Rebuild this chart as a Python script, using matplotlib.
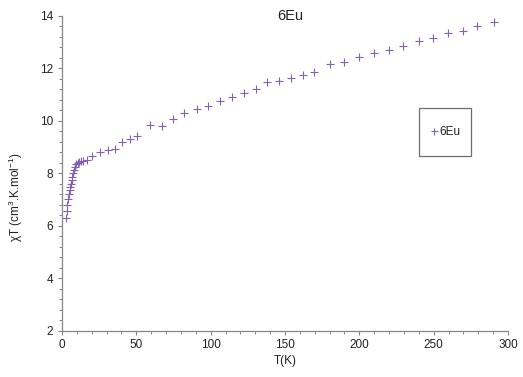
"""
Magnetic susceptibility plot (chi*T vs T) for the 6Eu sample.
"""

import matplotlib
matplotlib.use("Agg")
import matplotlib.pyplot as plt
from matplotlib.patches import Rectangle
from matplotlib.ticker import MultipleLocator

plt.rcParams["font.family"] = ["Liberation Sans", "DejaVu Sans"]
plt.rcParams["mathtext.fontset"] = "custom"
plt.rcParams["mathtext.rm"] = "Liberation Sans"
plt.rcParams["mathtext.it"] = "Liberation Sans:italic"

# Temperature (K) and chi*T (cm3.K.mol-1)
temperature = [
    2.6, 3.2, 3.7, 4.2, 4.7, 5.2, 5.5, 6.0, 6.5, 7.0, 7.5, 8.1, 8.7, 9.6,
    10.6, 11.6, 12.8, 14.3, 16.6, 20.0, 25.6, 30.7, 35.6, 40.4, 45.7, 50.2,
    59.2, 67.1, 74.5, 82.3, 90.6, 98.2, 106.3, 114.1, 122.4, 130.5, 138.1,
    146.2, 153.8, 161.9, 169.5, 180.3, 189.7, 200.0, 209.9, 219.7, 229.6,
    239.9, 249.7, 259.8, 269.5, 279.3, 290.6,
]
chi_t = [
    6.30, 6.56, 6.79, 7.04, 7.21, 7.36, 7.48, 7.61, 7.74, 7.87, 8.00, 8.12,
    8.25, 8.34, 8.40, 8.44, 8.47, 8.48, 8.52, 8.67, 8.82, 8.89, 8.92, 9.19,
    9.31, 9.42, 9.84, 9.82, 10.07, 10.30, 10.45, 10.56, 10.76, 10.92, 11.05,
    11.21, 11.49, 11.52, 11.65, 11.75, 11.87, 12.16, 12.26, 12.42, 12.58,
    12.70, 12.87, 13.05, 13.17, 13.34, 13.44, 13.63, 13.76,
]
series_name = "6Eu"

axis_color = "#868686"
text_color = "#222222"
marker_color = "#8462b3"

fig = plt.figure(figsize=(5.23, 3.77), dpi=100)
ax = fig.add_axes([0.1185, 0.1228, 0.8528, 0.8348])

ax.plot(temperature, chi_t, linestyle="none", marker="+", markersize=6.3,
        markeredgewidth=0.8, color=marker_color, label=series_name)

ax.set_xlim(0, 300)
ax.set_ylim(2, 14)
ax.xaxis.set_major_locator(MultipleLocator(50))
ax.xaxis.set_minor_locator(MultipleLocator(10))
ax.yaxis.set_major_locator(MultipleLocator(2))
ax.yaxis.set_minor_locator(MultipleLocator(0.4))

for side in ["top", "right"]:
    ax.spines[side].set_visible(False)
for side in ["left", "bottom"]:
    ax.spines[side].set_color(axis_color)
    ax.spines[side].set_linewidth(0.9)

ax.tick_params(which="major", direction="out", length=3.2, width=0.8,
               color=axis_color, labelsize=8.5, labelcolor=text_color, pad=3)
ax.tick_params(which="minor", direction="out", length=2.4, width=0.7,
               color=axis_color)

ax.set_xlabel("T(K)", fontsize=8.5, color=text_color, labelpad=3)
ax.set_ylabel("χT (cm$^{3}$.K.mol$^{-1}$)", fontsize=8.5, color=text_color)
ax.yaxis.set_label_coords(-0.083, 0.425)

ax.text(0.511, 1.0, series_name, transform=ax.transAxes, ha="center",
        va="center", fontsize=10.5, color=text_color)

# Legend box drawn separately so it can be taller than the entry
ax.add_patch(Rectangle((0.800, 0.555), 0.116, 0.154, transform=ax.transAxes,
                       fill=False, edgecolor="#6e6e6e", linewidth=0.9,
                       clip_on=False))
ax.legend(loc="center", bbox_to_anchor=(0.858, 0.632), frameon=False,
          fontsize=8.5, handlelength=0.8, handletextpad=0.1, borderpad=0,
          markerscale=0.8, labelcolor=text_color)

fig.savefig("out.png", dpi=100)
